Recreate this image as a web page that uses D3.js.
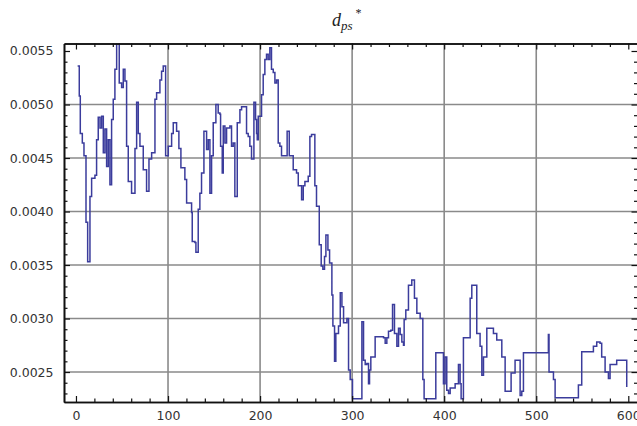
<!DOCTYPE html>
<html><head><meta charset="utf-8">
<script src="https://cdn.jsdelivr.net/npm/d3@7"></script>
<style>body{margin:0;background:#fff}svg{display:block}</style>
</head><body><svg id="c" width="637" height="426"></svg>
<script>
// sample index at which each step starts
const xPos = [1.8,3.6,4.7,6.9,8.7,10.9,12.7,15.2,17.0,20.6,22.4,24.2,26.1,27.9,29.7,31.5,33.3,35.1,36.9,38.7,40.5,42.3,44.2,47.0,49.6,51.4,53.2,55.0,56.8,60.4,64.1,65.9,67.7,69.5,73.1,76.7,79.3,82.2,85.8,87.6,91.2,93.0,94.8,97.4,100.3,103.9,105.7,109.3,111.8,114.0,118.3,120.2,125.6,126.3,129.2,130.3,132.8,134.6,136.4,139.0,141.9,143.7,145.5,147.3,149.1,152.0,154.5,156.4,157.1,158.9,160.0,161.8,163.6,167.2,169.0,170.8,172.6,175.2,178.1,179.9,185.3,187.1,188.9,190.7,193.3,195.1,196.2,196.9,198.0,201.6,203.4,205.2,207.0,208.8,210.6,212.4,214.3,216.1,217.9,219.7,221.5,223.3,229.4,231.7,236.0,239.6,241.5,245.1,246.9,248.7,252.3,254.1,255.9,259.5,261.3,264.3,266.4,268.2,270.0,271.5,273.7,275.5,278.0,279.1,280.9,282.3,285.2,287.1,288.9,290.7,294.3,296.1,297.9,300.4,310.6,312.4,314.2,316.0,317.8,318.9,320.3,325.0,334.1,335.9,337.7,339.5,342.0,343.9,346.0,348.6,350.4,352.2,354.0,355.8,356.5,358.3,361.2,364.8,367.7,370.3,373.9,376.8,378.2,390.9,399.2,401.0,402.8,404.7,406.5,411.9,415.5,417.3,418.4,420.9,428.2,430.0,435.4,439.0,440.9,442.7,446.3,453.5,457.1,462.6,466.2,472.7,477.0,482.5,484.3,486.1,513.2,513.9,518.7,520.5,545.8,549.4,562.1,565.7,569.3,571.1,574.8,578.4,580.2,587.4,598.3];
// d_ps* value of each step
const dValues = [0.00536,0.00508,0.00473,0.00464,0.00452,0.00390,0.00353,0.00414,0.00431,0.00434,0.00467,0.00488,0.00478,0.00489,0.00455,0.00477,0.00442,0.00467,0.00425,0.00486,0.00505,0.00533,0.00560,0.00520,0.00516,0.00533,0.00522,0.00461,0.00428,0.00417,0.00459,0.00502,0.00473,0.00461,0.00439,0.00419,0.00449,0.00455,0.00505,0.00511,0.00523,0.00531,0.00536,0.00452,0.00461,0.00473,0.00483,0.00475,0.00459,0.00441,0.00430,0.00408,0.00399,0.00372,0.00371,0.00362,0.00402,0.00417,0.00436,0.00475,0.00458,0.00467,0.00417,0.00452,0.00483,0.00500,0.00492,0.00491,0.00461,0.00436,0.00480,0.00464,0.00478,0.00480,0.00461,0.00464,0.00414,0.00483,0.00495,0.00498,0.00473,0.00470,0.00461,0.00449,0.00502,0.00486,0.00473,0.00467,0.00489,0.00509,0.00528,0.00542,0.00547,0.00542,0.00553,0.00533,0.00530,0.00520,0.00523,0.00464,0.00461,0.00452,0.00475,0.00452,0.00439,0.00436,0.00424,0.00411,0.00424,0.00428,0.00433,0.00470,0.00472,0.00424,0.00405,0.00369,0.00349,0.00346,0.00358,0.00378,0.00364,0.00352,0.00322,0.00293,0.00260,0.00286,0.00293,0.00324,0.00311,0.00296,0.00300,0.00252,0.00243,0.00225,0.00297,0.00261,0.00257,0.00258,0.00239,0.00252,0.00264,0.00283,0.00282,0.00277,0.00282,0.00288,0.00289,0.00313,0.00286,0.00274,0.00291,0.00285,0.00278,0.00275,0.00299,0.00308,0.00331,0.00336,0.00319,0.00305,0.00300,0.00243,0.00225,0.00268,0.00239,0.00264,0.00233,0.00230,0.00235,0.00239,0.00257,0.00239,0.00225,0.00282,0.00319,0.00331,0.00286,0.00274,0.00247,0.00264,0.00291,0.00286,0.00280,0.00264,0.00232,0.00249,0.00261,0.00228,0.00232,0.00268,0.00285,0.00250,0.00243,0.00226,0.00238,0.00269,0.00274,0.00278,0.00277,0.00264,0.00250,0.00244,0.00257,0.00261,0.00236];

const xTicks = [0,100,200,300,400,500,600];
const xMinor = [20,40,60,80,120,140,160,180,220,240,260,280,320,340,360,380,420,440,460,480,520,540,560,580];
const yTicks = [0.0025,0.0030,0.0035,0.0040,0.0045,0.0050,0.0055];
const yMinor = [0.0023,0.0024,0.0026,0.0027,0.0028,0.0029,0.0031,0.0032,0.0033,0.0034,0.0036,0.0037,0.0038,0.0039,0.0041,0.0042,0.0043,0.0044,0.0046,0.0047,0.0048,0.0049,0.0051,0.0052,0.0053,0.0054];
const xGrid = [100,200,300,400,500];
const yGrid = [0.0025,0.0030,0.0035,0.0040,0.0045,0.0050];

const svg = d3.select("#c");
const L = 64, R = 637.5, T = 43.5, B = 402;
const x = d3.scaleLinear().domain([-13, 610]).range([L, R]);
const y = d3.scaleLinear().domain([0.00222, 0.00557]).range([B, T]);

// grid
const g = svg.append("g");
g.selectAll(".vg").data(xGrid).enter().append("line")
  .attr("x1", d => x(d)).attr("x2", d => x(d)).attr("y1", T).attr("y2", B)
  .attr("stroke", "#8a8a8a").attr("stroke-width", 1.6);
g.selectAll(".hg").data(yGrid).enter().append("line")
  .attr("x1", L).attr("x2", R).attr("y1", d => y(d)).attr("y2", d => y(d))
  .attr("stroke", "#8a8a8a").attr("stroke-width", 1.6);

// data line
svg.append("clipPath").attr("id", "clip").append("rect")
  .attr("x", L).attr("y", T).attr("width", R - L).attr("height", B - T);
const pts = xPos.map((v, i) => [v, dValues[i]]);
const line = d3.line().x(d => x(d[0])).y(d => y(d[1])).curve(d3.curveStepAfter);
svg.append("path").datum(pts).attr("clip-path", "url(#clip)")
  .attr("d", line).attr("fill", "none").attr("stroke", "#3b3c9c").attr("stroke-width", 1.5);

// axes
function styleAxis(sel) {
  sel.selectAll("path.domain").attr("stroke", "#111").attr("stroke-width", 1.6);
  sel.selectAll(".tick line").attr("stroke", "#111").attr("stroke-width", 1.2);
  sel.selectAll("text").attr("fill", "#333").attr("font-family", "DejaVu Sans, Verdana, sans-serif").attr("font-size", "12.5px");
}
const fmt = d3.format(".4f");
const bottom = svg.append("g").attr("transform", `translate(0,${B})`)
  .call(d3.axisBottom(x).tickValues(xTicks).tickSize(-6).tickSizeOuter(0).tickPadding(9).tickFormat(d3.format("d")));
styleAxis(bottom);
svg.append("g").attr("transform", `translate(0,${B})`)
  .call(d3.axisBottom(x).tickValues(xMinor).tickSize(-3.5).tickSizeOuter(0).tickFormat(""))
  .call(styleAxis);
const left = svg.append("g").attr("transform", `translate(${L},0)`)
  .call(d3.axisLeft(y).tickValues(yTicks).tickSize(-6).tickSizeOuter(0).tickPadding(10.5).tickFormat(fmt));
styleAxis(left);
svg.append("g").attr("transform", `translate(${L},0)`)
  .call(d3.axisLeft(y).tickValues(yMinor).tickSize(-3.5).tickSizeOuter(0).tickFormat(""))
  .call(styleAxis);
svg.append("g").attr("transform", `translate(0,${T})`)
  .call(d3.axisTop(x).tickValues(xTicks).tickSize(-6).tickSizeOuter(0).tickFormat(""))
  .call(styleAxis);
svg.append("g").attr("transform", `translate(0,${T})`)
  .call(d3.axisTop(x).tickValues(xMinor).tickSize(-3.5).tickSizeOuter(0).tickFormat(""))
  .call(styleAxis);
svg.append("g").attr("transform", `translate(${R},0)`)
  .call(d3.axisRight(y).tickValues(yTicks).tickSize(-6).tickSizeOuter(0).tickFormat(""))
  .call(styleAxis);
svg.append("g").attr("transform", `translate(${R},0)`)
  .call(d3.axisRight(y).tickValues(yMinor).tickSize(-3.5).tickSizeOuter(0).tickFormat(""))
  .call(styleAxis);

// title d_ps^*
const t = svg.append("text").attr("x", 332).attr("y", 26)
  .attr("font-family", "Liberation Serif, Times New Roman, serif").attr("font-style", "italic")
  .attr("fill", "#222");
t.append("tspan").attr("font-size", "18px").text("d");
t.append("tspan").attr("font-size", "13px").attr("dy", 4).text("ps");
t.append("tspan").attr("font-size", "12px").attr("dy", -13).attr("dx", 3).attr("font-style", "normal").text("*");
</script>
</body></html>
